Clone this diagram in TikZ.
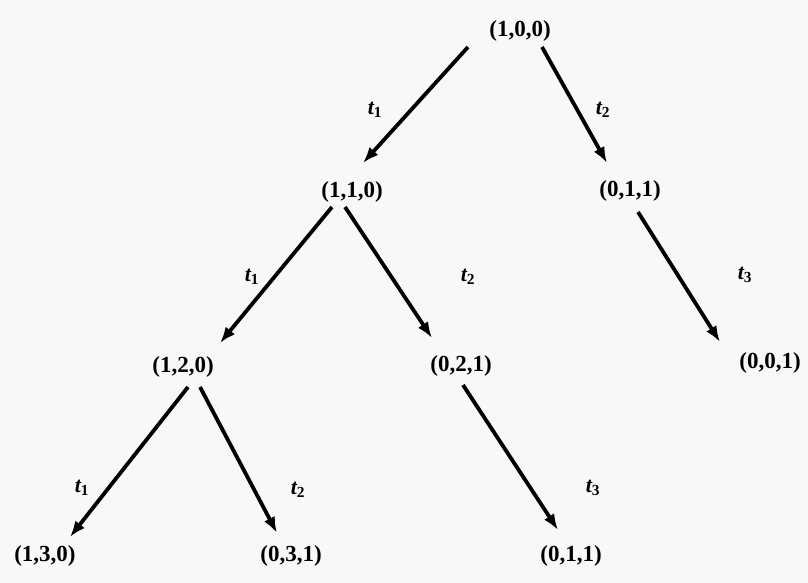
\documentclass[tikz,border=0pt]{standalone}
\usepackage{fontspec}
\setmainfont{Liberation Serif}
\usetikzlibrary{arrows.meta}
\definecolor{paper}{RGB}{248,248,250}
\begin{document}
\begin{tikzpicture}[x=1pt,y=-1pt,line width=3.8pt,
  every node/.style={font=\fontsize{23}{27}\selectfont\bfseries,inner sep=0pt},
  arr/.style={-{Latex[length=16pt,width=12pt]}},
  lbl/.style={font=\fontsize{22}{26}\selectfont\bfseries\itshape}]
  \fill[paper,use as bounding box] (0,0) rectangle (808,583);
  \node (n100) at (520,31) {(1,0,0)};
  \node (n110) at (352,192) {(1,1,0)};
  \node (n011) at (630,191) {(0,1,1)};
  \node (n120) at (183,367) {(1,2,0)};
  \node (n021) at (461,366) {(0,2,1)};
  \node (n001) at (770,363) {(0,0,1)};
  \node (n130) at (45,556) {(1,3,0)};
  \node (n031) at (291,556) {(0,3,1)};
  \node (n011b) at (571,556) {(0,1,1)};
  \draw[arr] ([shift={(-52,16)}]n100.center) -- ([shift={(11,-29)}]n110.center);
  \draw[arr] ([shift={(22,16)}]n100.center) -- ([shift={(-23,-28)}]n011.center);
  \draw[arr] ([shift={(-20,15)}]n110.center) -- ([shift={(37,-24)}]n120.center);
  \draw[arr] ([shift={(-7,15)}]n110.center) -- ([shift={(-29,-28)}]n021.center);
  \draw[arr] ([shift={(8,21)}]n011.center) -- ([shift={(-50,-21)}]n001.center);
  \draw[arr] ([shift={(5,20)}]n120.center) -- ([shift={(25,-19)}]n130.center);
  \draw[arr] ([shift={(17,20)}]n120.center) -- ([shift={(-14,-23)}]n031.center);
  \draw[arr] ([shift={(2,19)}]n021.center) -- ([shift={(-13,-26)}]n011b.center);
  \node[lbl] (ta) at (375,110) {t\textsubscript{\upshape 1}};
  \node[lbl] (tb) at (603,110) {t\textsubscript{\upshape 2}};
  \node[lbl] (tc) at (252,277) {t\textsubscript{\upshape 1}};
  \node[lbl] (td) at (468,277) {t\textsubscript{\upshape 2}};
  \node[lbl] (te) at (745,275) {t\textsubscript{\upshape 3}};
  \node[lbl] (tf) at (82,488) {t\textsubscript{\upshape 1}};
  \node[lbl] (tg) at (298,490) {t\textsubscript{\upshape 2}};
  \node[lbl] (th) at (593,488) {t\textsubscript{\upshape 3}};
\end{tikzpicture}
\end{document}
